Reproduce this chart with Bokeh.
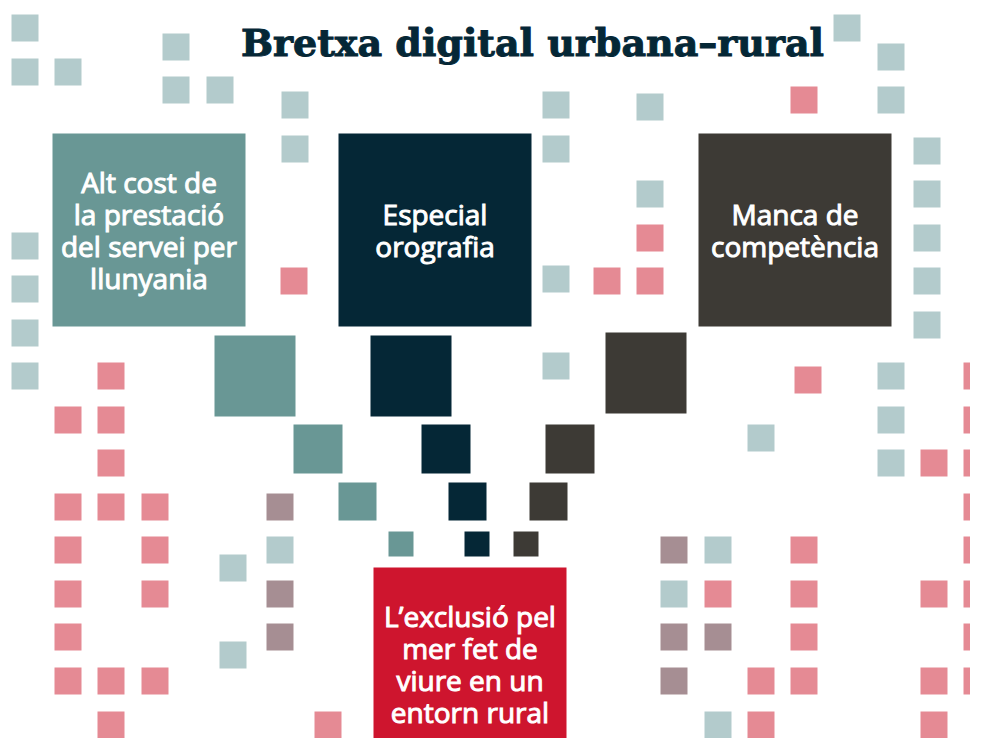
from bokeh.plotting import figure
from bokeh.models import Range1d
from bokeh.core.properties import value
from bokeh.embed import file_html
from bokeh.resources import INLINE

# ---------------- data ----------------
title_text = "Bretxa digital urbana\u2013rural"

cause_lines = [["Alt cost de", "la prestació", "del servei per", "llunyania"],
               ["Especial", "orografia"],
               ["Manca de", "competència"]]
cause_left = [52, 338, 698]
cause_top = [133, 133, 133]
result_lines = ["L\u2019exclusió pel", "mer fet de", "viure en un", "entorn rural"]
result_left = 373
result_top = 567
box_size = 193

# trail of shrinking squares from each cause towards the result
trail_sizes = [81, 49, 38, 25]
trail_left = [[214, 293, 338, 388],
              [370, 421, 448, 464],
              [605, 545, 529, 513]]
trail_top = [[335, 424, 482, 531],
             [335, 424, 482, 531],
             [332, 424, 482, 531]]

# decorative small squares (top-left corners)
light_x = [11, 11, 54, 162, 162, 206, 281, 281, 11, 11, 11, 11, 542, 542, 636, 636,
           833, 877, 877, 913, 913, 913, 913, 913, 542, 542, 747, 877, 877, 877,
           219, 219, 266, 704, 660, 704]
light_y = [14, 58, 58, 33, 76, 76, 91, 135, 232, 275, 319, 362, 91, 135, 93, 180,
           14, 43, 86, 137, 180, 224, 267, 311, 265, 352, 424, 362, 406, 449,
           554, 641, 536, 536, 580, 711]
pink_x = [790, 636, 593, 636, 280, 97, 54, 97, 97, 54, 97, 141, 54, 141, 54, 141,
          54, 54, 97, 141, 97, 314, 794, 963, 963, 963, 920, 963, 790, 963, 704,
          790, 920, 963, 790, 963, 747, 790, 920, 963, 747, 920]
pink_y = [86, 224, 267, 267, 267, 362, 406, 406, 449, 493, 493, 493, 536, 536, 580,
          580, 623, 667, 667, 667, 711, 711, 366, 362, 406, 449, 449, 493, 536, 536,
          580, 580, 580, 580, 623, 623, 667, 667, 667, 667, 711, 711]
mauve_x = [266, 266, 266, 660, 660, 704, 660]
mauve_y = [493, 580, 623, 536, 623, 623, 667]
small_size = 27

# ---------------- styles ----------------
C_LIGHT = "#B3CBCC"
C_PINK = "#E58A94"
C_MAUVE = "#A68E93"
C_CAUSE = ["#699795", "#052736", "#3D3A35"]
C_RED = "#CE152E"
C_TITLE = "#052736"
TXT_FONT = "Open Sans"
TXT_SIZE = 28
LINE_H = 31.7
TXT_SHIFT = 0

W, H = 970, 738
p = figure(width=W, height=H, output_backend="svg", toolbar_location=None,
           x_range=Range1d(0, W), y_range=Range1d(H, 0),
           min_border=0, outline_line_color=None, background_fill_color="white",
           border_fill_color="white")
p.axis.visible = False
p.grid.visible = False


def squares(xs, ys, size, color):
    p.rect(x=[x + size / 2 for x in xs], y=[y + size / 2 for y in ys],
           width=size, height=size, fill_color=color, line_color=None)


squares(light_x, light_y, small_size, C_LIGHT)
squares(pink_x, pink_y, small_size, C_PINK)
squares(mauve_x, mauve_y, small_size, C_MAUVE)

for i in range(3):
    for j, s in enumerate(trail_sizes):
        squares([trail_left[i][j]], [trail_top[i][j]], s, C_CAUSE[i])
    squares([cause_left[i]], [cause_top[i]], box_size, C_CAUSE[i])

squares([result_left], [result_top], box_size, C_RED)


def box_text(left, top, lines):
    cx = left + box_size / 2
    cy = top + box_size / 2 + TXT_SHIFT
    n = len(lines)
    ys = [cy + (k - (n - 1) / 2) * LINE_H for k in range(n)]
    p.text(x=[cx] * n, y=ys, text=lines, text_align="center",
           text_baseline="alphabetic", text_color="white",
           text_font=value(TXT_FONT), text_font_size=f"{TXT_SIZE}px",
           text_font_style="normal", text_outline_color="white")


for i in range(3):
    box_text(cause_left[i], cause_top[i], cause_lines[i])
box_text(result_left, result_top, result_lines)

p.text(x=[532], y=[42], text=[title_text], text_align="center",
       text_baseline="alphabetic", text_color=C_TITLE,
       text_font=value("DejaVu Serif"), text_font_size="38px",
       text_font_style="bold", text_outline_color=C_TITLE)

open("out.html", "w").write(file_html(p, INLINE))
